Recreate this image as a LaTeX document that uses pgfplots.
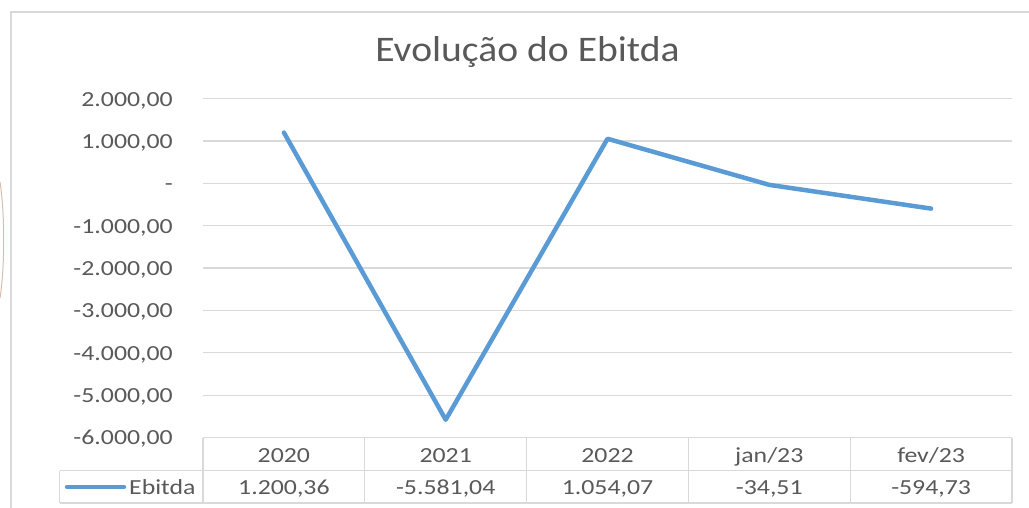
\documentclass[border=0pt]{standalone}
\usepackage{pgfplots}
\pgfplotsset{compat=1.18}
\usepackage{fontspec}
\setmainfont{Carlito}[FakeStretch=1.2]
\newfontfamily\titlefont{Carlito}[FakeStretch=1.10]
\definecolor{txt}{HTML}{595959}
\definecolor{gridc}{HTML}{D9D9D9}
\definecolor{ebitda}{HTML}{5B9BD5}
\definecolor{arcc}{HTML}{D8BFAE}
\begin{document}
\begin{tikzpicture}[x=1bp,y=1bp]
\path[use as bounding box] (0,0) rectangle (1029,-508);
\draw[arcc, line width=1bp] (0,-182) .. controls (5,-215) and (5,-265) .. (0,-298);
\draw[gridc, line width=2bp] (10.5,-508) -- (10.5,-12) -- (1029,-12);
\node[txt, font=\titlefont\fontsize{36bp}{40bp}\selectfont, anchor=base, inner sep=0pt] at (527.5,-61.5) {Evolução do Ebitda};
\begin{axis}[
  at={(203bp,-437.5bp)}, anchor=south west,
  scale only axis, width=809bp, height=338.8bp,
  xmin=-0.5, xmax=4.5, ymin=-6000, ymax=2000,
  axis line style={draw=none},
  major tick length=0pt,
  ymajorgrids, grid style={gridc, line width=1.3bp},
  scaled y ticks=false,
  ytick={-6000,-5000,...,2000},
  yticklabels={{-6.000,00},{-5.000,00},{-4.000,00},{-3.000,00},{-2.000,00},{-1.000,00},{-\hspace{14bp}},{1.000,00},{2.000,00}},
  xtick={0,...,4}, xticklabels={2020,2021,2022,jan/23,fev/23},
  tick label style={font=\fontsize{21.5bp}{25bp}\selectfont, text=txt, inner sep=0pt},
  yticklabel style={anchor=base east, xshift=-30bp, yshift=-7.3bp},
  xticklabel style={anchor=base, yshift=-24.5bp},
  clip=false,
]
\addplot[ebitda, line width=4.5bp, line join=round, line cap=round] coordinates {(0,1200.36) (1,-5581.04) (2,1054.07) (3,-34.51) (4,-594.73)};
\node[txt, anchor=base, inner sep=0pt, yshift=-56.5bp, font=\fontsize{21.5bp}{25bp}\selectfont] at (axis cs:0,-6000) {1.200,36};
\node[txt, anchor=base, inner sep=0pt, yshift=-56.5bp, font=\fontsize{21.5bp}{25bp}\selectfont] at (axis cs:1,-6000) {-5.581,04};
\node[txt, anchor=base, inner sep=0pt, yshift=-56.5bp, font=\fontsize{21.5bp}{25bp}\selectfont] at (axis cs:2,-6000) {1.054,07};
\node[txt, anchor=base, inner sep=0pt, yshift=-56.5bp, font=\fontsize{21.5bp}{25bp}\selectfont] at (axis cs:3,-6000) {-34,51};
\node[txt, anchor=base, inner sep=0pt, yshift=-56.5bp, font=\fontsize{21.5bp}{25bp}\selectfont] at (axis cs:4,-6000) {-594,73};
\end{axis}
\draw[gridc, line width=1.3bp] (59.5,-470.5) -- (1012,-470.5) (59.5,-503) -- (1012,-503) (59.5,-470.5) -- (59.5,-503);
\foreach \x in {203,364.8,526.6,688.4,850.2,1012} \draw[gridc, line width=1.3bp] (\x,-437.5) -- (\x,-503);
\draw[ebitda, line width=4.5bp, line cap=round] (67,-487) -- (124,-487);
\node[txt, anchor=base west, inner sep=0pt, font=\fontsize{21.5bp}{25bp}\selectfont] at (129,-494) {Ebitda};
\end{tikzpicture}
\end{document}
